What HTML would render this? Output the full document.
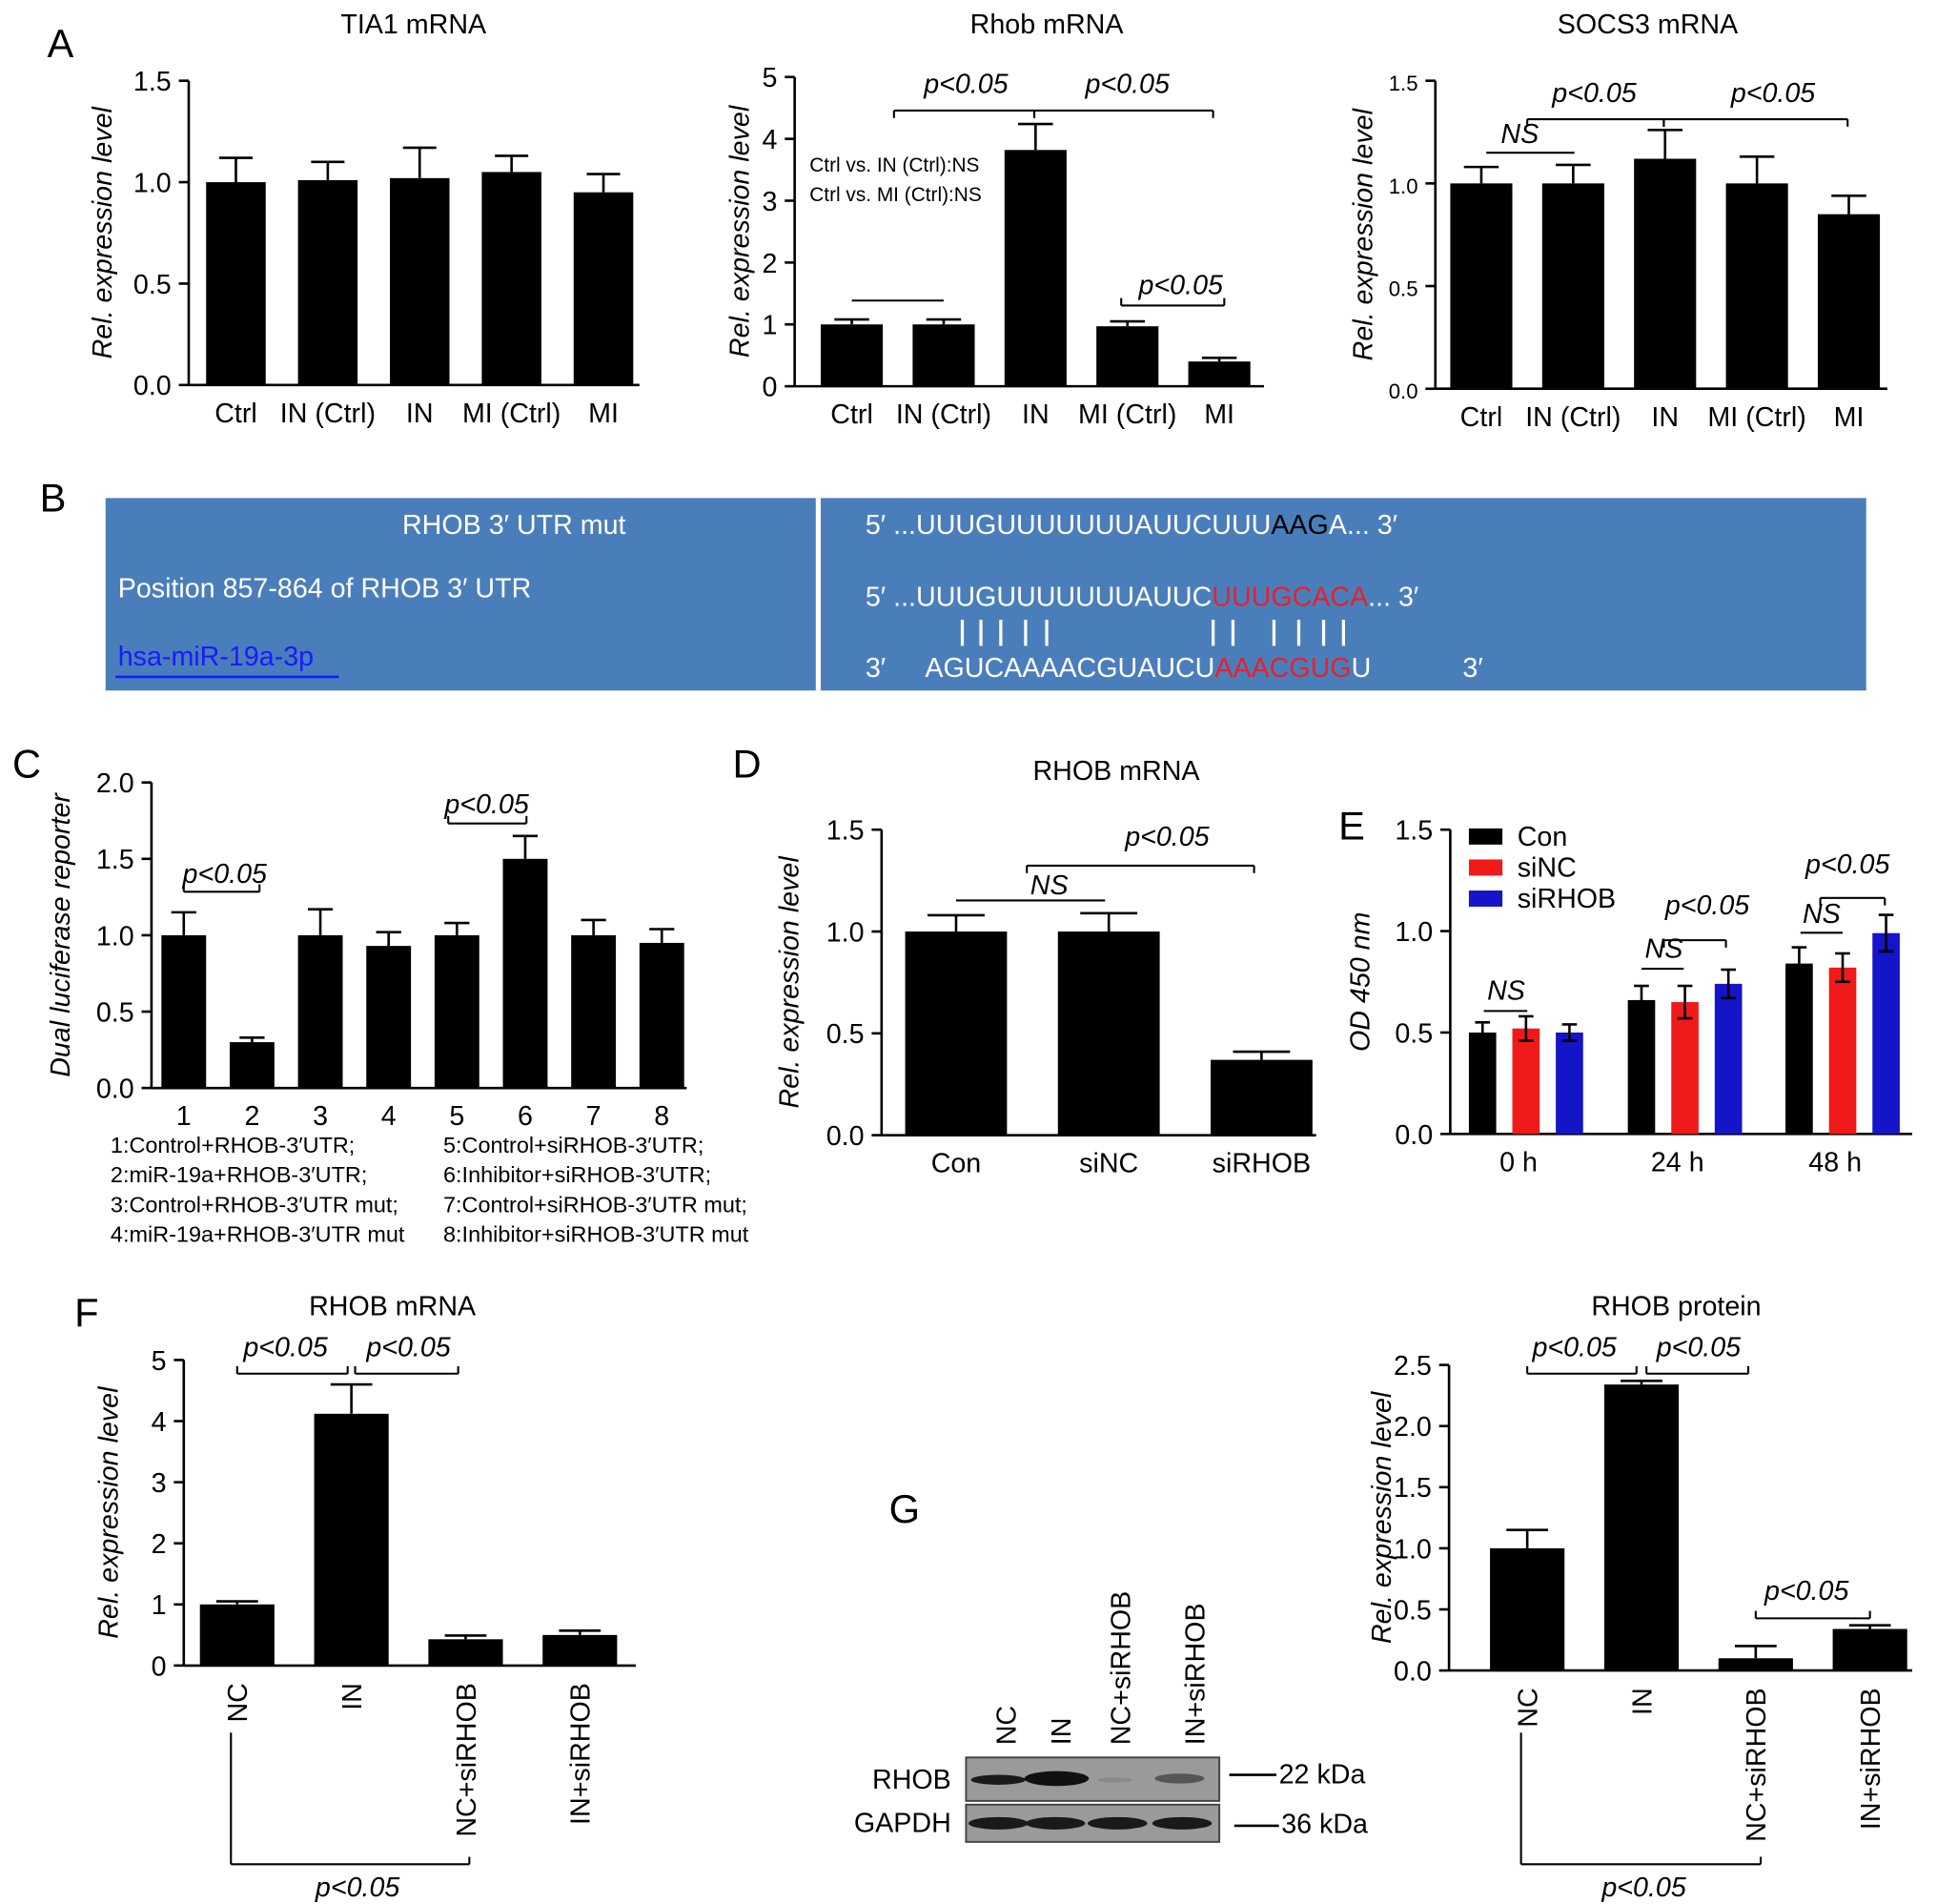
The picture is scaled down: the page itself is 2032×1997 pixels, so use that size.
<!DOCTYPE html>
<html><head><meta charset="utf-8"><style>
html,body{margin:0;padding:0;background:#fff}
svg{display:block}
text{font-family:"Liberation Sans",Arial,sans-serif}
</style></head><body>
<svg id="fig" width="2032" height="1997" viewBox="0 0 1560 1533" preserveAspectRatio="none" xmlns="http://www.w3.org/2000/svg">
<g id="root"></g>
</svg>
<script>
// ---- data ----
const aCats = ["Ctrl","IN (Ctrl)","IN","MI (Ctrl)","MI"];
const tia1Vals = [1.0,1.01,1.02,1.05,0.95];
const tia1Errs = [0.12,0.09,0.15,0.08,0.09];
const tia1Ticks = ["0.0","0.5","1.0","1.5"];
const rhobVals = [1.0,1.0,3.82,0.97,0.4];
const rhobErrs = [0.08,0.08,0.42,0.08,0.06];
const rhobTicks = ["0","1","2","3","4","5"];
const socsVals = [1.0,1.0,1.12,1.0,0.85];
const socsErrs = [0.08,0.09,0.14,0.13,0.09];
const socsTicks = ["0.0","0.5","1.0","1.5"];
const cCats = ["1","2","3","4","5","6","7","8"];
const lucVals = [1.0,0.3,1.0,0.93,1.0,1.5,1.0,0.95];
const lucErrs = [0.15,0.03,0.17,0.09,0.08,0.15,0.1,0.09];
const lucTicks = ["0.0","0.5","1.0","1.5","2.0"];
const dCats = ["Con","siNC","siRHOB"];
const dVals = [1.0,1.0,0.37];
const dErrs = [0.08,0.09,0.04];
const dTicks = ["0.0","0.5","1.0","1.5"];
const eGroups = ["0 h","24 h","48 h"];
const eSeries = ["Con","siNC","siRHOB"];
const eCon = [0.5,0.66,0.84];
const eSiNC = [0.52,0.65,0.82];
const eSiRHOB = [0.5,0.74,0.99];
const eConErr = [0.05,0.07,0.08];
const eSiNCErr = [0.06,0.08,0.07];
const eSiRHOBErr = [0.04,0.07,0.09];
const eTicks = ["0.0","0.5","1.0","1.5"];
const fCats = ["NC","IN","NC+siRHOB","IN+siRHOB"];
const fVals = [1.0,4.12,0.43,0.5];
const fErrs = [0.05,0.48,0.06,0.07];
const fTicks = ["0","1","2","3","4","5"];
const gVals = [1.0,2.34,0.1,0.34];
const gErrs = [0.15,0.03,0.1,0.03];
const gTicks = ["0.0","0.5","1.0","1.5","2.0","2.5"];

const NS="http://www.w3.org/2000/svg";
const root=document.getElementById('root');
function el(tag,attrs,parent,txt){const e=document.createElementNS(NS,tag);for(const k in attrs)e.setAttribute(k,attrs[k]);if(txt!==undefined)e.textContent=txt;(parent||root).appendChild(e);return e;}
function line(x1,y1,x2,y2,w,p,c){return el('line',{x1,y1,x2,y2,stroke:c||'#000','stroke-width':w||2},p);}
function txt(x,y,s,size,p,opts){const o=Object.assign({x,y,'font-size':size||22,'text-anchor':'middle',fill:'#000'},opts||{});return el('text',o,p,s);}

function chart(cfg){
  const g=el('g',{});
  
  
  const ys=v=>cfg.y0-(v/cfg.ymax)*(cfg.y0-cfg.ytop);
  line(cfg.ax,cfg.y0,cfg.ax,cfg.ytop,2,g);
  const n=cfg.ticks.length;
  cfg.ticks.forEach((t,i)=>{const v=cfg.ymax*i/(n-1);const y=ys(v);line(cfg.ax-8,y,cfg.ax,y,2,g);
    const tt=txt(cfg.ax-14,y+8,t,cfg.tickSize||22,g,{'text-anchor':'end'});
    
    });
  line(cfg.ax,cfg.y0,cfg.axEnd,cfg.y0,2,g);
  const yt=txt(0,0,cfg.ytitle,22,g,{transform:`translate(${cfg.ytx},${(cfg.y0+cfg.ytop)/2}) rotate(-90)`,'font-style':'italic'});
  
  
  if(cfg.title){const t=txt(cfg.titleX,cfg.titleY,cfg.title,22,g);
    
    }
  cfg.vals.forEach((v,i)=>{
    const cx=cfg.x0+i*cfg.step;const w=cfg.bw;
    const top=ys(v), et=ys(v+cfg.errs[i]);
    const b=el('rect',{x:cx-w/2,y:top,width:w,height:cfg.y0-top,fill:'#000'},g);
    
    
    line(cx,top,cx,et,2,g);line(cx-w*0.28,et,cx+w*0.28,et,2,g);
    if(cfg.cats){
      if(cfg.rot){const l=txt(0,0,cfg.cats[i],22,g,{transform:`translate(${cx+8},${cfg.y0+14}) rotate(-90)`,'text-anchor':'end'});
        
        }
      else{const l=txt(cx,cfg.y0+30,cfg.cats[i],22,g);
        
        }
    }
  });
  return {g,ys};
}
function bracket(x1,x2,y,d,g){line(x1,y+d,x1,y,1.6,g);line(x1,y,x2,y,1.6,g);line(x2,y,x2,y+d,1.6,g);}
function ptxt(x,y,s,g){const t=txt(x,y,s,22,g,{'font-style':'italic'});return t;}
function letter(x,y,s){const t=txt(x,y,s,32,root,{'text-anchor':'start'});}

letter(38,46,'A');letter(32,412,'B');letter(10,626,'C');letter(590,626,'D');letter(1078,676,'E');letter(60,1068,'F');letter(716,1226,'G');

// A1
chart({name:'tia1-chart',ax:152,y0:310,ytop:65,ymax:1.5,ticks:tia1Ticks,axEnd:515,ytitle:'Rel. expression level',ytx:90,title:'TIA1 mRNA',titleX:333,titleY:27,vals:tia1Vals,errs:tia1Errs,x0:190,step:74,bw:48,cats:aCats});
// A2
const a2=chart({name:'rhob-chart',ax:640,y0:311,ytop:62,ymax:5,ticks:rhobTicks,axEnd:1018,ytitle:'Rel. expression level',ytx:603,title:'Rhob mRNA',titleX:843,titleY:27,vals:rhobVals,errs:rhobErrs,x0:686,step:74,bw:50,cats:aCats});
bracket(720,833,89,6,a2.g);bracket(833,977,89,6,a2.g);ptxt(778,75,'p<0.05',a2.g);ptxt(908,75,'p<0.05',a2.g);
line(686,242,760,242,1.6,a2.g);bracket(903,986,246,-6,a2.g);ptxt(951,237,'p<0.05',a2.g);
txt(652,138,'Ctrl vs. IN (Ctrl):NS',16,a2.g,{'text-anchor':'start'});txt(652,162,'Ctrl vs. MI (Ctrl):NS',16,a2.g,{'text-anchor':'start'});
// A3
const a3=chart({name:'socs3-chart',ax:1156,y0:313,ytop:65,ymax:1.5,ticks:socsTicks,axEnd:1520,ytitle:'Rel. expression level',ytx:1105,title:'SOCS3 mRNA',titleX:1327,titleY:27,vals:socsVals,errs:socsErrs,x0:1193,step:74,bw:50,cats:aCats,tickSize:17});
line(1197,123,1268,123,1.6,a3.g);ptxt(1224,115,'NS',a3.g);bracket(1230,1340,96,6,a3.g);bracket(1340,1488,96,6,a3.g);ptxt(1284,82,'p<0.05',a3.g);ptxt(1428,82,'p<0.05',a3.g);

// B
const gb=el('g',{});
el('rect',{x:85,y:401,width:1418,height:155,fill:'#4a7ebb'},gb);
line(659,401,659,556,4,gb,'#fff');
txt(414,430,'RHOB 3′ UTR mut',22,gb,{fill:'#fff'});
txt(95,481,'Position 857-864 of RHOB 3′ UTR',22,gb,{'text-anchor':'start',fill:'#fff'});
const lk=txt(95,536,'hsa-miR-19a-3p',22,gb,{'text-anchor':'start',fill:'#1a1aff'});
line(93,545,273,545,2,gb,'#1a1aff');
const t1=el('text',{x:697,y:430,'font-size':22,fill:'#fff'},gb);
el('tspan',{fill:'#fff'},t1,'5′ ...UUUGUUUUUUUAUUCUUU');el('tspan',{fill:'#000'},t1,'AAG');el('tspan',{fill:'#fff'},t1,'A... 3′');
const t2=el('text',{x:697,y:488,'font-size':22,fill:'#fff'},gb);
el('tspan',{fill:'#fff'},t2,'5′ ...UUUGUUUUUUUAUUC');el('tspan',{fill:'#e8202a'},t2,'UUUGCACA');el('tspan',{fill:'#fff'},t2,'... 3′');
const t3=el('text',{x:697,y:545,'font-size':22,fill:'#fff'},gb);
el('tspan',{fill:'#fff',x:697},t3,'3′');
el('tspan',{fill:'#fff',x:745},t3,'AGUCAAAACGUAUCU');el('tspan',{fill:'#e8202a'},t3,'AAACGUG');el('tspan',{fill:'#fff'},t3,'U');
el('tspan',{fill:'#fff',x:1178},t3,'3′');
[775,790,806,826,843,977,993,1026,1046,1066,1082].forEach(x=>line(x,499,x,520,2.5,gb,'#fff'));

// C
const gc=chart({name:'luciferase-chart',ax:122,y0:876,ytop:630,ymax:2.0,ticks:lucTicks,axEnd:553,ytitle:'Dual luciferase reporter',ytx:56,vals:lucVals,errs:lucErrs,x0:148,step:55,bw:36,cats:cCats});
bracket(148,209,718,-6,gc.g);ptxt(181,711,'p<0.05',gc.g);bracket(361,424,663,-6,gc.g);ptxt(392,655,'p<0.05',gc.g);
[['1:Control+RHOB-3′UTR;','5:Control+siRHOB-3′UTR;'],['2:miR-19a+RHOB-3′UTR;','6:Inhibitor+siRHOB-3′UTR;'],['3:Control+RHOB-3′UTR mut;','7:Control+siRHOB-3′UTR mut;'],['4:miR-19a+RHOB-3′UTR mut','8:Inhibitor+siRHOB-3′UTR mut']].forEach((r,i)=>{
 const a=txt(89,928+i*24,r[0],18,gc.g,{'text-anchor':'start'});
 const b=txt(357,928+i*24,r[1],18,gc.g,{'text-anchor':'start'});});

// D
const gd=chart({name:'rhob-sirna-chart',ax:710,y0:914,ytop:668,ymax:1.5,ticks:dTicks,axEnd:1060,ytitle:'Rel. expression level',ytx:643,title:'RHOB mRNA',titleX:899,titleY:628,vals:dVals,errs:dErrs,x0:770,step:123,bw:82,cats:dCats});
line(770,725,890,725,1.6,gd.g);ptxt(845,720,'NS',gd.g);bracket(827,1010,697,6,gd.g);ptxt(940,681,'p<0.05',gd.g);

// E
(function(){
 const g=el('g',{});
 const ax=1168,y0=913,ytop=668,ymax=1.5;const ys=v=>y0-(v/ymax)*(y0-ytop);
 line(ax,y0,ax,ytop,2,g);line(ax,y0,1540,y0,2,g);
 eTicks.forEach((t,i)=>{const y=ys(ymax*i/(eTicks.length-1));line(ax-8,y,ax,y,2,g);const l=txt(ax-14,y+8,t,22,g,{'text-anchor':'end'});});
 const yt=txt(0,0,'OD 450 nm',22,g,{transform:`translate(1103,${(y0+ytop)/2}) rotate(-90)`,'font-style':'italic'});
 const series=[eCon,eSiNC,eSiRHOB],errs=[eConErr,eSiNCErr,eSiRHOBErr],cols=['#000','#f01a1a','#1414c8'];
 const gx=[1229,1357,1484];
 eGroups.forEach((lab,gi)=>{
  series.forEach((s,si)=>{const cx=gx[gi]+(si-1)*35;const top=ys(s[gi]);
   const b=el('rect',{x:cx-11,y:top,width:22,height:y0-top,fill:cols[si]},g);
   const e1=ys(s[gi]+errs[si][gi]),e2=ys(s[gi]-errs[si][gi]);line(cx,e1,cx,e2,2,g);line(cx-6,e1,cx+6,e1,2,g);line(cx-6,e2,cx+6,e2,2,g);});
  const l=txt(gx[gi]-6,y0+30,lab,22,g);});
 eSeries.forEach((s,i)=>{const r=el('rect',{x:1183,y:667+i*25,width:27,height:13,fill:cols[i]},g);
  const t=txt(1222,681+i*25,s,22,g,{'text-anchor':'start'});});
 line(1195,814,1230,814,1.6,g);ptxt(1213,805,'NS',g);
 line(1322,780,1356,780,1.6,g);ptxt(1340,771,'NS',g);bracket(1340,1390,757,6,g);ptxt(1375,736,'p<0.05',g);
 line(1450,751,1484,751,1.6,g);ptxt(1467,743,'NS',g);bracket(1466,1518,723,6,g);ptxt(1488,703,'p<0.05',g);
})();

// F
const gf=chart({name:'rhob-mrna-f-chart',ax:148,y0:1341,ytop:1095,ymax:5,ticks:fTicks,axEnd:512,ytitle:'Rel. expression level',ytx:95,title:'RHOB mRNA',titleX:316,titleY:1059,vals:fVals,errs:fErrs,x0:191,step:92,bw:60,cats:fCats,rot:true});
bracket(191,280,1106,-6,gf.g);bracket(286,369,1106,-6,gf.g);ptxt(230,1092,'p<0.05',gf.g);ptxt(329,1092,'p<0.05',gf.g);
line(186,1395,186,1501,1.6,gf.g);line(186,1501,378,1501,1.6,gf.g);line(378,1501,378,1495,1.6,gf.g);ptxt(288,1527,'p<0.05',gf.g);

// G blot
(function(){
 const g=el('g',{});
 el('rect',{x:778,y:1415,width:204,height:35,fill:'#9a9a9a',stroke:'#444','stroke-width':1.5},g);
 el('rect',{x:778,y:1453,width:204,height:30,fill:'#9a9a9a',stroke:'#444','stroke-width':1.5},g);
 el('ellipse',{cx:804,cy:1433,rx:22,ry:4,fill:'#1a1a1a'},g);el('ellipse',{cx:851,cy:1432,rx:26,ry:6,fill:'#111'},g);
 el('ellipse',{cx:898,cy:1433,rx:14,ry:2,fill:'#8a8a8a'},g);el('ellipse',{cx:950,cy:1432,rx:20,ry:4,fill:'#555'},g);
 [804,850,900,952].forEach(x=>el('ellipse',{cx:x,cy:1468,rx:24,ry:5,fill:'#1a1a1a'},g));
 txt(766,1440,'RHOB',22,g,{'text-anchor':'end'});txt(766,1475,'GAPDH',22,g,{'text-anchor':'end'});
 line(990,1429,1028,1429,2,g);txt(1030,1436,'22 kDa',22,g,{'text-anchor':'start'});
 line(994,1470,1030,1470,2,g);txt(1032,1476,'36 kDa',22,g,{'text-anchor':'start'});
 [['NC',818],['IN',862],['NC+siRHOB',910],['IN+siRHOB',970]].forEach(([s,x])=>{const t=txt(0,0,s,22,g,{transform:`translate(${x},1405) rotate(-90)`,'text-anchor':'start'});});
})();

// G chart
const gg=chart({name:'rhob-protein-chart',ax:1167,y0:1345,ytop:1099,ymax:2.5,ticks:gTicks,axEnd:1540,ytitle:'Rel. expression level',ytx:1120,title:'RHOB protein',titleX:1350,titleY:1059,vals:gVals,errs:gErrs,x0:1230,step:92,bw:60,cats:fCats,rot:true});
bracket(1230,1318,1106,-6,gg.g);bracket(1326,1408,1106,-6,gg.g);ptxt(1268,1092,'p<0.05',gg.g);ptxt(1368,1092,'p<0.05',gg.g);
bracket(1414,1506,1303,-6,gg.g);ptxt(1455,1288,'p<0.05',gg.g);
line(1225,1395,1225,1501,1.6,gg.g);line(1225,1501,1418,1501,1.6,gg.g);line(1418,1501,1418,1495,1.6,gg.g);ptxt(1324,1527,'p<0.05',gg.g);
</script>
</body></html>
